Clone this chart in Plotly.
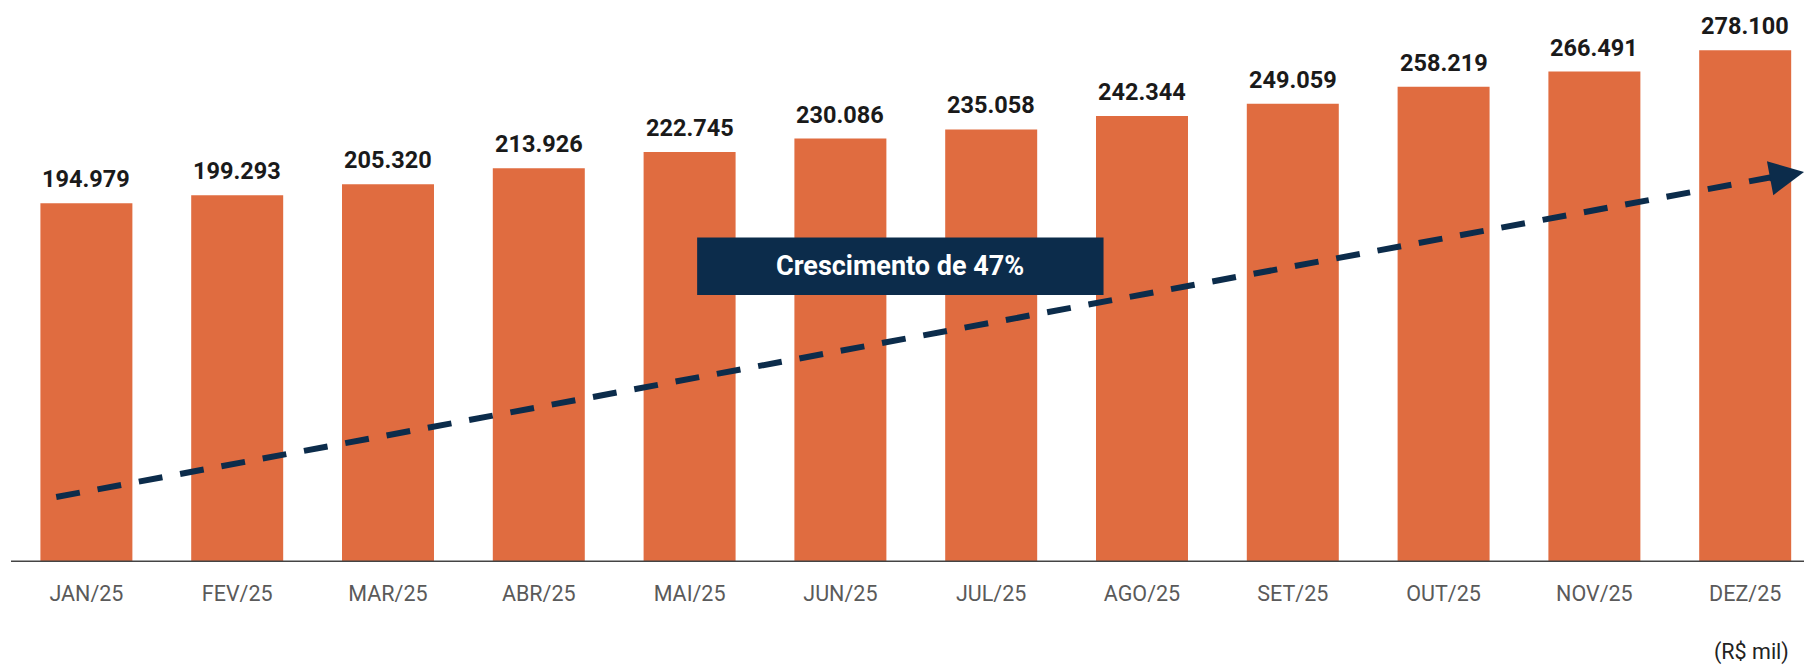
import plotly.graph_objects as go

months = ["JAN/25", "FEV/25", "MAR/25", "ABR/25", "MAI/25", "JUN/25",
          "JUL/25", "AGO/25", "SET/25", "OUT/25", "NOV/25", "DEZ/25"]
revenue = [194979, 199293, 205320, 213926, 222745, 230086,
           235058, 242344, 249059, 258219, 266491, 278100]

growth_label = "Crescimento de 47%"
unit_label = "(R$ mil)"

BAR_COLOR = "#E06C40"
NAVY = "#0C2C4B"


def fmt_br(v):
    return f"{v:,}".replace(",", ".")


fig = go.Figure()
fig.add_trace(go.Bar(
    x=list(range(len(months))), y=revenue,
    marker=dict(color=BAR_COLOR, line=dict(width=0)),
    width=0.61, hoverinfo="skip",
))

# value labels above bars
for i, v in enumerate(revenue):
    fig.add_annotation(
        x=i, y=v, text=f"<b>{fmt_br(v)}</b>", showarrow=False,
        yanchor="bottom", yshift=8,
        font=dict(family="Roboto", size=23.5, color="#1a1a1a"),
    )

# dashed trend arrow
fig.add_shape(type="line", xref="x", yref="y",
              x0=-0.2, y0=35300, x1=11.2, y1=209500,
              line=dict(color=NAVY, width=6, dash="24px,18px"))
fig.add_annotation(x=11.39, y=212000, ax=11.15, ay=208300,
                   xref="x", yref="y", axref="x", ayref="y",
                   text="", showarrow=True, arrowhead=2, arrowsize=1.15,
                   arrowwidth=6, arrowcolor=NAVY)

# growth box
fig.add_shape(type="rect", xref="x", yref="y",
              x0=4.05, x1=6.745, y0=145100, y1=176300,
              fillcolor=NAVY, line=dict(width=0))
fig.add_annotation(x=(4.05 + 6.745) / 2, y=(145100 + 176300) / 2,
                   text=f"<b>{growth_label}</b>", showarrow=False,
                   font=dict(family="Roboto", size=27, color="white"))

fig.add_annotation(xref="paper", yref="paper", x=0.993, y=-0.16,
                   xanchor="right", yanchor="middle", text=unit_label,
                   showarrow=False,
                   font=dict(family="Roboto", size=21.5, color="#222222"))

fig.update_layout(
    width=1804, height=666,
    margin=dict(l=11, r=0, t=0, b=104),
    plot_bgcolor="white", paper_bgcolor="white",
    showlegend=False,
    xaxis=dict(
        range=[-0.5, 11.39], tickmode="array",
        tickvals=list(range(len(months))), ticktext=months,
        showgrid=False, zeroline=False,
        showline=False,
        ticks="outside", ticklen=12, tickcolor="rgba(0,0,0,0)",
        tickfont=dict(family="Roboto", size=21.5, color="#5a5a5a"),
    ),
    yaxis=dict(
        range=[0, 305400], visible=False, showgrid=False,
    ),
)
fig.add_shape(type="line", xref="paper", yref="y", x0=0, x1=1, y0=0, y1=0,
              line=dict(color="#444444", width=3))

# drop the default page margin so the 1804x666 figure fills the window
fig.write_html("out.html", config={"displayModeBar": False},
               post_script="document.body.style.margin='0';")
